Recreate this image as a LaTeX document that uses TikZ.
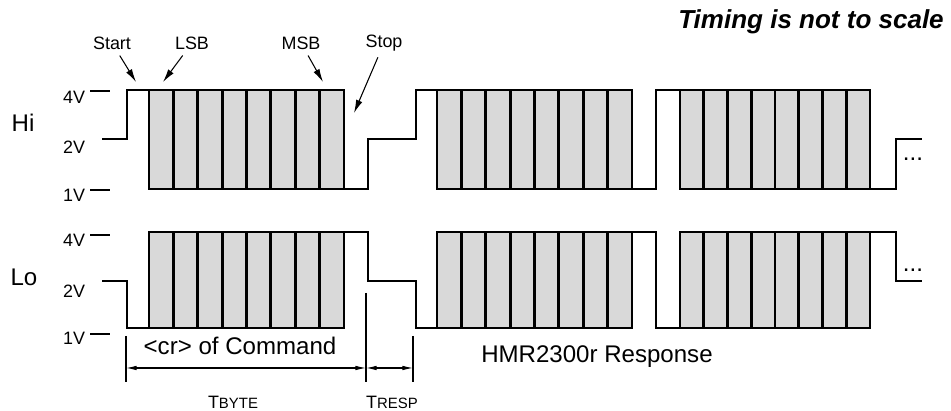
\documentclass[tikz,border=0pt]{standalone}
\usepackage{fontspec}
\setmainfont{Liberation Sans}
\usepackage{tikz}
\usetikzlibrary{arrows.meta}
\definecolor{bitgray}{RGB}{217,217,217}

\begin{document}
\begin{tikzpicture}[x=0.02cm, y=-0.02cm,
  wave/.style={line width=1.6pt},
  bits/.style={line width=1.6pt, fill=bitgray},
  tick/.style={line width=0.6pt},
  pointer/.style={line width=0.6pt, -{Latex[length=7.5pt, width=3.8pt]}},
  span/.style={line width=0.6pt, {Latex[length=6pt, width=2.6pt]}-{Latex[length=6pt, width=2.6pt]}},
  volt/.style={font=\fontsize{10.2}{12}\selectfont},
  row/.style={font=\fontsize{13.7}{16}\selectfont}]
\useasboundingbox (0,0) rectangle (951,411);
\node [font=\fontsize{14.8}{17}\selectfont\bfseries\itshape] (note) at (811,22) {Timing is not to scale};
% rows and levels
\node [row] (hi) at (23,123) {Hi};
\node [row] (lo) at (24,277) {Lo};
\node [volt] (hi4) at (74,97) {4V};
\node [volt] (hi2) at (74,147) {2V};
\node [volt] (hi1) at (74,195) {1V};
\node [volt] (lo4) at (74,240) {4V};
\node [volt] (lo2) at (74,291) {2V};
\node [volt] (lo1) at (74,338) {1V};
\draw [tick] (90,91) -- (110,91);
\draw [tick] (90,190) -- (110,190);
\draw [tick] (90,235) -- (110,235);
\draw [tick] (90,334) -- (110,334);
% Hi line
\draw [wave] (102,139) -| (127,90) -- (149,90);
\draw [wave] (344,189) -| (368,139) -| (416,90) -- (437,90);
\draw [wave] (632,189) -| (656,90) -- (680,90);
\draw [wave] (869,189) -| (896,139) -- (922,139);
% Lo line
\draw [wave] (102,281) -| (127,328) -- (149,328);
\draw [wave] (344,232) -| (368,281) -| (416,328) -- (437,328);
\draw [wave] (632,232) -| (656,328) -- (680,328);
\draw [wave] (869,232) -| (896,281) -- (922,281);
% bytes
\foreach \x/\w in {149/195, 437/195, 680/190}
  \foreach \ya/\yb in {90/189, 232/328} {
    \draw [bits] (\x,\ya) rectangle ++(\w,\yb-\ya);
    \foreach \i in {1,...,7}
      \draw [wave] (\x+\i*\w/8,\ya) -- (\x+\i*\w/8,\yb);
  }
\node [row] (hidots) at (913,159) {...};
\node [row] (lodots) at (913,270) {...};
% bit labels
\node [volt] (start) at (112,43) {Start};
\node [volt] (lsb) at (192,43) {LSB};
\node [volt] (msb) at (301,43) {MSB};
\node [volt] (stop) at (384,43) {Stop};
\coordinate (startpt) at (136,82);
\coordinate (lsbpt) at (163,82);
\coordinate (msbpt) at (323,82);
\coordinate (stoppt) at (354,113);
\draw [pointer] (start) -- (startpt);
\draw [pointer] (lsb) -- (lsbpt);
\draw [pointer] (msb) -- (msbpt);
\draw [pointer] (stop) -- (stoppt);
% timing
\node [row] (cmd) at (240,346) {<cr> of Command};
\node [row] (resp) at (597,357) {HMR2300r Response};
\draw [tick] (126,336) -- (126,382);
\draw [tick] (366,293) -- (366,382);
\draw [tick] (413,336) -- (413,382);
\coordinate (byteL) at (126,368);
\coordinate (byteR) at (366,368);
\coordinate (respR) at (413,368);
\draw [span] (byteL) -- (byteR);
\draw [span] (byteR) -- (respR);
\node (tbyte) at (233,402) {\fontsize{10.2}{12}\selectfont T\fontsize{8.5}{10}\selectfont BYTE};
\node (tresp) at (392,402) {\fontsize{10.2}{12}\selectfont T\fontsize{8.5}{10}\selectfont RESP};
\end{tikzpicture}
\end{document}
